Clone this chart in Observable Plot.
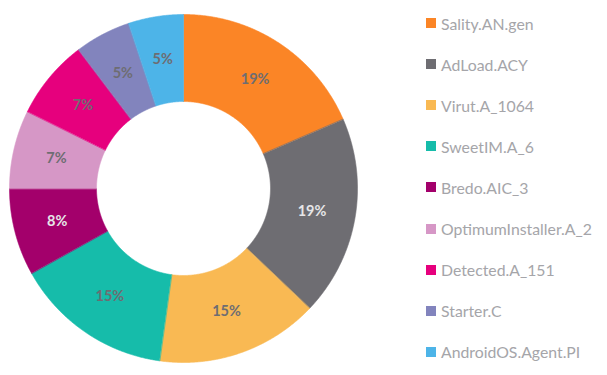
<!DOCTYPE html>
<html><head><meta charset="utf-8">
<script src="https://cdn.jsdelivr.net/npm/d3@7"></script>
<script src="https://cdn.jsdelivr.net/npm/@observablehq/plot@0.6"></script>
<style>
html,body{margin:0;padding:0;background:#fff;}
#wrap{position:relative;width:607px;height:375px;font-family:Lato, "Open Sans", sans-serif;overflow:hidden;}
#chart{position:absolute;left:0;top:0;}
#legend{position:absolute;left:426px;top:0;}
.row{position:absolute;left:0;display:flex;align-items:center;height:20px;white-space:nowrap;}
.sw{width:10px;height:10px;margin-right:5px;flex:none;}
.lbl{font-size:15.8px;color:#a5a5a9;}
</style></head><body>
<div id="wrap"><div id="chart"></div><div id="legend"></div></div>
<script>
const names = ["Sality.AN.gen","AdLoad.ACY","Virut.A_1064","SweetIM.A_6","Bredo.AIC_3","OptimumInstaller.A_2","Detected.A_151","Starter.C","AndroidOS.Agent.PI"];
const values = [18.5, 18.6, 15.1, 14.7, 8.1, 7.3, 7.4, 5.2, 5.1];
const colors = ["#fb8526","#6e6d72","#f9b953","#16bcaa","#a3006b","#d697c6","#e6007d","#8284bd","#4db4e8"];
const labelColors = ["#6e6d72","#e6e6e8","#6e6d72","#6e6d72","#e6e6e8","#6e6d72","#6e6d72","#6e6d72","#6e6d72"];

const R = 1, r0 = 0.5, rl = 0.75;
const total = d3.sum(values);
const arcs = d3.pie().sort(null).value(d => d)(values);
const pts = [];
const labels = [];
arcs.forEach((a, i) => {
  const n = Math.max(4, Math.ceil((a.endAngle - a.startAngle) / 0.005));
  for (let k = 0; k <= n; k++) {
    const t = a.startAngle + (a.endAngle - a.startAngle) * k / n;
    pts.push({name: names[i], x: R * Math.sin(t), y: R * Math.cos(t)});
  }
  for (let k = n; k >= 0; k--) {
    const t = a.startAngle + (a.endAngle - a.startAngle) * k / n;
    pts.push({name: names[i], x: r0 * Math.sin(t), y: r0 * Math.cos(t)});
  }
  const m = (a.startAngle + a.endAngle) / 2;
  labels.push({x: rl * Math.sin(m), y: rl * Math.cos(m), text: Math.round(values[i] / total * 100) + "%", c: labelColors[i]});
});

const W = 410, H = 375, cx = 183, cy = 188, rad = 174;
const plot = Plot.plot({
  width: W, height: H, margin: 0,
  x: {domain: [-cx / rad, (W - cx) / rad], axis: null},
  y: {domain: [-(H - cy) / rad, cy / rad], axis: null},
  color: {domain: names, range: colors},
  marks: [
    Plot.line(pts, {x: "x", y: "y", z: "name", fill: "name", stroke: "name", strokeWidth: 0.6, curve: "linear-closed"}),
    Plot.text(labels, {x: "x", y: "y", text: "text", fill: d => d.c, fontSize: 14.5, fontWeight: "bold", fontFamily: "Lato, sans-serif"})
  ]
});
document.getElementById("chart").appendChild(plot);

const color = plot.scale("color");
const lg = document.getElementById("legend");
names.forEach((nm, i) => {
  const row = document.createElement("div");
  row.className = "row";
  row.style.top = (13 + i * 41.1) + "px";
  const sw = document.createElement("span");
  sw.className = "sw";
  sw.style.background = color.apply(nm);
  const t = document.createElement("span");
  t.className = "lbl";
  t.textContent = nm;
  row.appendChild(sw); row.appendChild(t);
  lg.appendChild(row);
});
</script>
</body></html>
